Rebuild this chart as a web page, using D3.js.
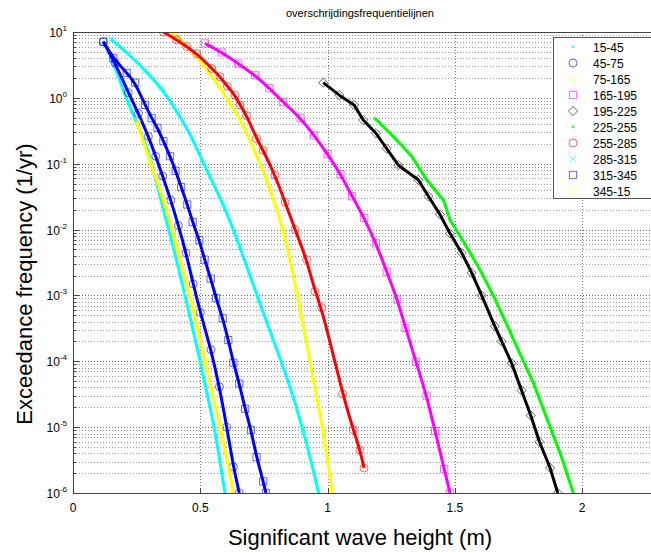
<!DOCTYPE html>
<html>
<head>
<meta charset="utf-8">
<script src="https://cdn.jsdelivr.net/npm/d3@7"></script>
<style>
  body { margin: 0; background: #fff; }
  svg { font-family: "Liberation Sans", Arial, sans-serif; }
</style>
</head>
<body>
<div id="chart"></div>
<script>
// direction sectors (legend labels)
var sectors = ["15-45", "45-75", "75-165", "165-195", "195-225",
               "225-255", "255-285", "285-315", "315-345", "345-15"];

// significant wave height (m) and exceedance frequency (1/yr), per sector
var hs_15_45 = [0.119, 0.139, 0.178, 0.217, 0.257, 0.296, 0.348, 0.394, 0.44, 0.47, 0.499, 0.527, 0.555, 0.576, 0.597];
var f_15_45  = [7.1, 5.3, 2.1, 0.83, 0.36, 0.16, 2.5e-2, 5.5e-3, 1e-3, 3.2e-4, 1e-4, 3.2e-5, 1e-5, 3.2e-6, 1e-6];

var hs_45_75 = [0.119, 0.165, 0.217, 0.257, 0.296, 0.325, 0.352, 0.384, 0.414, 0.444, 0.472, 0.50, 0.542, 0.575, 0.604, 0.630, 0.653];
var f_45_75  = [7.1, 3.4, 1.2, 0.58, 0.26, 0.13, 6.5e-2, 2.8e-2, 1.15e-2, 4.4e-3, 1.5e-3, 5.5e-4, 1.5e-4, 4.1e-5, 1.0e-5, 2.5e-6, 1e-6];

var hs_75_165 = [0.388, 0.473, 0.512, 0.564, 0.617, 0.669, 0.721, 0.774, 0.826, 0.879, 0.944, 0.983, 1.018];
var f_75_165  = [10, 5.0, 3.2, 1.7, 0.83, 0.39, 0.135, 4.2e-2, 1.05e-2, 1.15e-3, 5.2e-5, 9.1e-6, 1e-6];

var hs_165_195 = [0.518, 0.584, 0.649, 0.715, 0.771, 0.826, 0.894, 0.947, 1.0, 1.051, 1.096, 1.144, 1.19, 1.232, 1.274, 1.306, 1.347, 1.389, 1.422, 1.458, 1.481];
var f_165_195  = [6.7, 4.9, 3.3, 2.2, 1.4, 0.86, 0.49, 0.27, 0.14, 6.9e-2, 3.2e-2, 1.5e-2, 6.2e-3, 2.3e-3, 8.7e-4, 3.2e-4, 9.8e-5, 3.0e-5, 8.7e-6, 2.3e-6, 1e-6];

var hs_195_225 = [0.983, 1.046, 1.104, 1.14, 1.19, 1.232, 1.278, 1.356, 1.396, 1.441, 1.481, 1.527, 1.566, 1.605, 1.657, 1.684, 1.723, 1.762, 1.798, 1.832, 1.874, 1.904];
var f_195_225  = [1.7, 1.1, 0.78, 0.46, 0.29, 0.17, 9.5e-2, 5.7e-2, 3.2e-2, 1.7e-2, 8.7e-3, 4.4e-3, 2.2e-3, 1.0e-3, 3.4e-4, 2.0e-4, 9.3e-5, 3.6e-5, 1.5e-5, 6.0e-6, 2.4e-6, 1e-6];

var hs_225_255 = [1.186, 1.271, 1.330, 1.389, 1.455, 1.481, 1.546, 1.605, 1.657, 1.71, 1.736, 1.808, 1.874, 1.919, 1.965];
var f_225_255  = [0.49, 0.23, 0.13, 5.7e-2, 2.8e-2, 1.4e-2, 5.5e-3, 2.2e-3, 8.9e-4, 3.2e-4, 1.9e-4, 4.7e-5, 1.0e-5, 3.5e-6, 1e-6];

var hs_255_285 = [0.355, 0.407, 0.447, 0.486, 0.545, 0.577, 0.606, 0.636, 0.656, 0.682, 0.721, 0.747, 0.793, 0.833, 0.872, 0.918, 0.95, 0.977, 1.059, 1.101, 1.127, 1.143];
var f_255_285  = [10, 7.6, 6.0, 4.7, 2.8, 2.1, 1.5, 1.1, 0.78, 0.54, 0.24, 0.16, 6.7e-2, 2.6e-2, 1.0e-2, 3.5e-3, 1.15e-3, 6.5e-4, 3.2e-5, 9.1e-6, 4.5e-6, 2.4e-6];

var hs_285_315 = [0.148, 0.217, 0.283, 0.348, 0.414, 0.47, 0.512, 0.59, 0.656, 0.728, 0.846, 0.905, 0.965];
var f_285_315  = [7.8, 4.7, 2.6, 1.4, 0.58, 0.24, 0.10, 2.5e-2, 5.5e-3, 8.5e-4, 5.2e-5, 9.1e-6, 1e-6];

var hs_315_345 = [0.119, 0.158, 0.211, 0.244, 0.283, 0.309, 0.332, 0.355, 0.381, 0.403, 0.425, 0.449, 0.470, 0.496, 0.517, 0.541, 0.562, 0.588, 0.610, 0.630, 0.653, 0.676, 0.699, 0.721, 0.747, 0.758];
var f_315_345  = [7.1, 4.0, 2.4, 1.7, 0.78, 0.49, 0.35, 0.22, 0.13, 7.8e-2, 4.4e-2, 2.4e-2, 1.3e-2, 6.9e-3, 3.5e-3, 1.8e-3, 9.1e-4, 4.5e-4, 2.1e-4, 9.5e-5, 4.6e-5, 1.9e-5, 9.1e-6, 3.5e-6, 1.5e-6, 1e-6];

var hs_345_15 = [0.25, 0.305, 0.361, 0.407, 0.455, 0.473, 0.518, 0.580, 0.630];
var f_345_15  = [0.44, 0.10, 2.5e-2, 5.5e-3, 1.1e-3, 6.0e-4, 1e-4, 1e-5, 1e-6];

var xTicks = [0, 0.5, 1, 1.5, 2];
var yExponents = [1, 0, -1, -2, -3, -4, -5, -6];

// series: data + plot style
var series = [
  {hs: hs_15_45,   f: f_15_45,   color: "#00ffff", marker: "point",   smooth: true},
  {hs: hs_45_75,   f: f_45_75,   color: "#0000ff", marker: "circle",  smooth: true},
  {hs: hs_75_165,  f: f_75_165,  color: "#ffff00", marker: "x",       smooth: true},
  {hs: hs_165_195, f: f_165_195, color: "#ff00ff", marker: "square",  smooth: true},
  {hs: hs_195_225, f: f_195_225, color: "#000000", marker: "diamond", smooth: false},
  {hs: hs_225_255, f: f_225_255, color: "#00ff00", marker: "point",   smooth: false},
  {hs: hs_255_285, f: f_255_285, color: "#ff0000", marker: "circle",  smooth: true},
  {hs: hs_285_315, f: f_285_315, color: "#00ffff", marker: "x",       smooth: true},
  {hs: hs_315_345, f: f_315_345, color: "#0000ff", marker: "square",  smooth: true},
  {hs: hs_345_15,  f: f_345_15,  color: "#ffff00", marker: "diamond", smooth: true}
];
series.forEach(function(s, i) {
  s.name = sectors[i];
  s.pts = s.hs.map(function(h, j) { return [h, s.f[j]]; });
});

// dimensions
var W = 651, H = 553;
var margin = {top: 32, left: 73, bottom: 60};
var plotBottom = H - margin.bottom;

var svg = d3.select("#chart").append("svg")
  .attr("width", W).attr("height", H);

var x = d3.scaleLinear().domain([0, 2.3]).range([margin.left, margin.left + 2.3 * 254.6]);
var y = d3.scaleLog().domain([1e-6, 10]).range([plotBottom, margin.top]);

var x0 = x.range()[0], x1 = x.range()[1];

svg.append("defs").append("clipPath").attr("id", "clip")
  .append("rect").attr("x", x0).attr("y", margin.top)
  .attr("width", x1 - x0).attr("height", plotBottom - margin.top);

// grid
var grid = svg.append("g");
var minorVals = [];
for (var e = -6; e < 1; e++) {
  for (var m = 2; m <= 9; m++) minorVals.push(m * Math.pow(10, e));
}
grid.selectAll(".gminor").data(minorVals).enter().append("line")
  .attr("x1", x0).attr("x2", x1)
  .attr("y1", function(d) { return Math.round(y(d)) + 0.5; })
  .attr("y2", function(d) { return Math.round(y(d)) + 0.5; })
  .attr("stroke", "#9a9a9a").attr("stroke-dasharray", "1,2");
grid.selectAll(".gmajor").data(yExponents).enter().append("line")
  .attr("x1", x0).attr("x2", x1)
  .attr("y1", function(d) { return Math.round(y(Math.pow(10, d))) + 0.5; })
  .attr("y2", function(d) { return Math.round(y(Math.pow(10, d))) + 0.5; })
  .attr("stroke", "#666").attr("stroke-dasharray", "1,2");
grid.selectAll(".gx").data(xTicks.slice(1)).enter().append("line")
  .attr("x1", function(d) { return Math.round(x(d)) + 0.5; })
  .attr("x2", function(d) { return Math.round(x(d)) + 0.5; })
  .attr("y1", margin.top).attr("y2", plotBottom)
  .attr("stroke", "#777").attr("stroke-dasharray", "1,2");

// markers
function markerPath(type, cx, cy) {
  if (type === "circle") {
    var r = 4;
    return "M" + (cx + r) + "," + cy + "A" + r + "," + r + " 0 1,1 " + (cx - r) + "," + cy + "A" + r + "," + r + " 0 1,1 " + (cx + r) + "," + cy + "Z";
  }
  if (type === "square") {
    var a = 3.6;
    return "M" + (cx - a) + "," + (cy - a) + "h" + 2 * a + "v" + 2 * a + "h" + (-2 * a) + "Z";
  }
  if (type === "diamond") {
    var b = 4.6;
    return "M" + cx + "," + (cy - b) + "L" + (cx + b) + "," + cy + "L" + cx + "," + (cy + b) + "L" + (cx - b) + "," + cy + "Z";
  }
  if (type === "x") {
    var c = 3.5;
    return "M" + (cx - c) + "," + (cy - c) + "L" + (cx + c) + "," + (cy + c) + "M" + (cx - c) + "," + (cy + c) + "L" + (cx + c) + "," + (cy - c);
  }
  return null;
}

function drawMarker(g, type, color, cx, cy) {
  if (type === "point") {
    g.append("circle").attr("cx", cx).attr("cy", cy).attr("r", 1.4)
      .attr("fill", color).attr("opacity", 0.8);
  } else {
    g.append("path").attr("d", markerPath(type, cx, cy))
      .attr("fill", "none").attr("stroke", color)
      .attr("stroke-width", 1).attr("opacity", 0.6);
  }
}

// curves
var plot = svg.append("g").attr("clip-path", "url(#clip)");
series.forEach(function(s) {
  var g = plot.append("g");
  s.pts.forEach(function(p) { drawMarker(g, s.marker, s.color, x(p[0]), y(p[1])); });
  var line = d3.line()
    .x(function(d) { return x(d[0]); })
    .y(function(d) { return y(d[1]); })
    .curve(s.smooth ? d3.curveBasis : d3.curveLinear);
  g.append("path").datum(s.pts)
    .attr("d", line)
    .attr("fill", "none").attr("stroke", s.color)
    .attr("stroke-width", 3).attr("stroke-linejoin", "round");
});

// axes box
var axisColor = "#444";
svg.append("line").attr("x1", x0).attr("x2", x1).attr("y1", margin.top + 0.5).attr("y2", margin.top + 0.5).attr("stroke", axisColor);
svg.append("line").attr("x1", x0).attr("x2", x1).attr("y1", plotBottom + 0.5).attr("y2", plotBottom + 0.5).attr("stroke", axisColor);
svg.append("line").attr("x1", x0 + 0.5).attr("x2", x0 + 0.5).attr("y1", margin.top).attr("y2", plotBottom).attr("stroke", axisColor);

// x ticks (inside) and labels
svg.selectAll(".xt").data(xTicks).enter().append("line")
  .attr("x1", function(d) { return Math.round(x(d)) + 0.5; })
  .attr("x2", function(d) { return Math.round(x(d)) + 0.5; })
  .attr("y1", plotBottom).attr("y2", plotBottom - 5)
  .attr("stroke", axisColor);
svg.selectAll(".xl").data(xTicks).enter().append("text")
  .attr("x", function(d) { return x(d); })
  .attr("y", plotBottom + 19)
  .attr("text-anchor", "middle")
  .attr("font-size", 12)
  .text(function(d) { return d; });

// y ticks (inside) and labels
svg.selectAll(".ytm").data(minorVals).enter().append("line")
  .attr("x1", x0).attr("x2", x0 + 3)
  .attr("y1", function(d) { return Math.round(y(d)) + 0.5; })
  .attr("y2", function(d) { return Math.round(y(d)) + 0.5; })
  .attr("stroke", axisColor);
svg.selectAll(".yt").data(yExponents).enter().append("line")
  .attr("x1", x0).attr("x2", x0 + 6)
  .attr("y1", function(d) { return Math.round(y(Math.pow(10, d))) + 0.5; })
  .attr("y2", function(d) { return Math.round(y(Math.pow(10, d))) + 0.5; })
  .attr("stroke", axisColor);
var yl = svg.selectAll(".yl").data(yExponents).enter().append("text")
  .attr("x", x0 - 6)
  .attr("y", function(d) { return y(Math.pow(10, d)) + 5; })
  .attr("text-anchor", "end")
  .attr("font-size", 12);
yl.append("tspan").text("10");
yl.append("tspan").attr("dy", -6).attr("font-size", 8).text(function(d) { return d; });

// title and axis labels
svg.append("text").attr("x", 360).attr("y", 17)
  .attr("text-anchor", "middle").attr("font-size", 11)
  .text("overschrijdingsfrequentielijnen");
svg.append("text").attr("x", 360).attr("y", 545)
  .attr("text-anchor", "middle").attr("font-size", 22)
  .text("Significant wave height (m)");
svg.append("text")
  .attr("transform", "translate(32,284) rotate(-90)")
  .attr("text-anchor", "middle").attr("font-size", 22)
  .text("Exceedance frequency (1/yr)");

// legend
var lg = svg.append("g");
lg.append("rect").attr("x", 553.5).attr("y", 37.5).attr("width", 120).attr("height", 161)
  .attr("fill", "#fff").attr("stroke", "#555");
series.forEach(function(s, i) {
  var cy = 47 + i * 16;
  drawMarker(lg, s.marker, s.color, 573, cy);
  lg.append("text").attr("x", 593).attr("y", cy + 4.5)
    .attr("font-size", 12).text(s.name);
});
</script>
</body>
</html>
